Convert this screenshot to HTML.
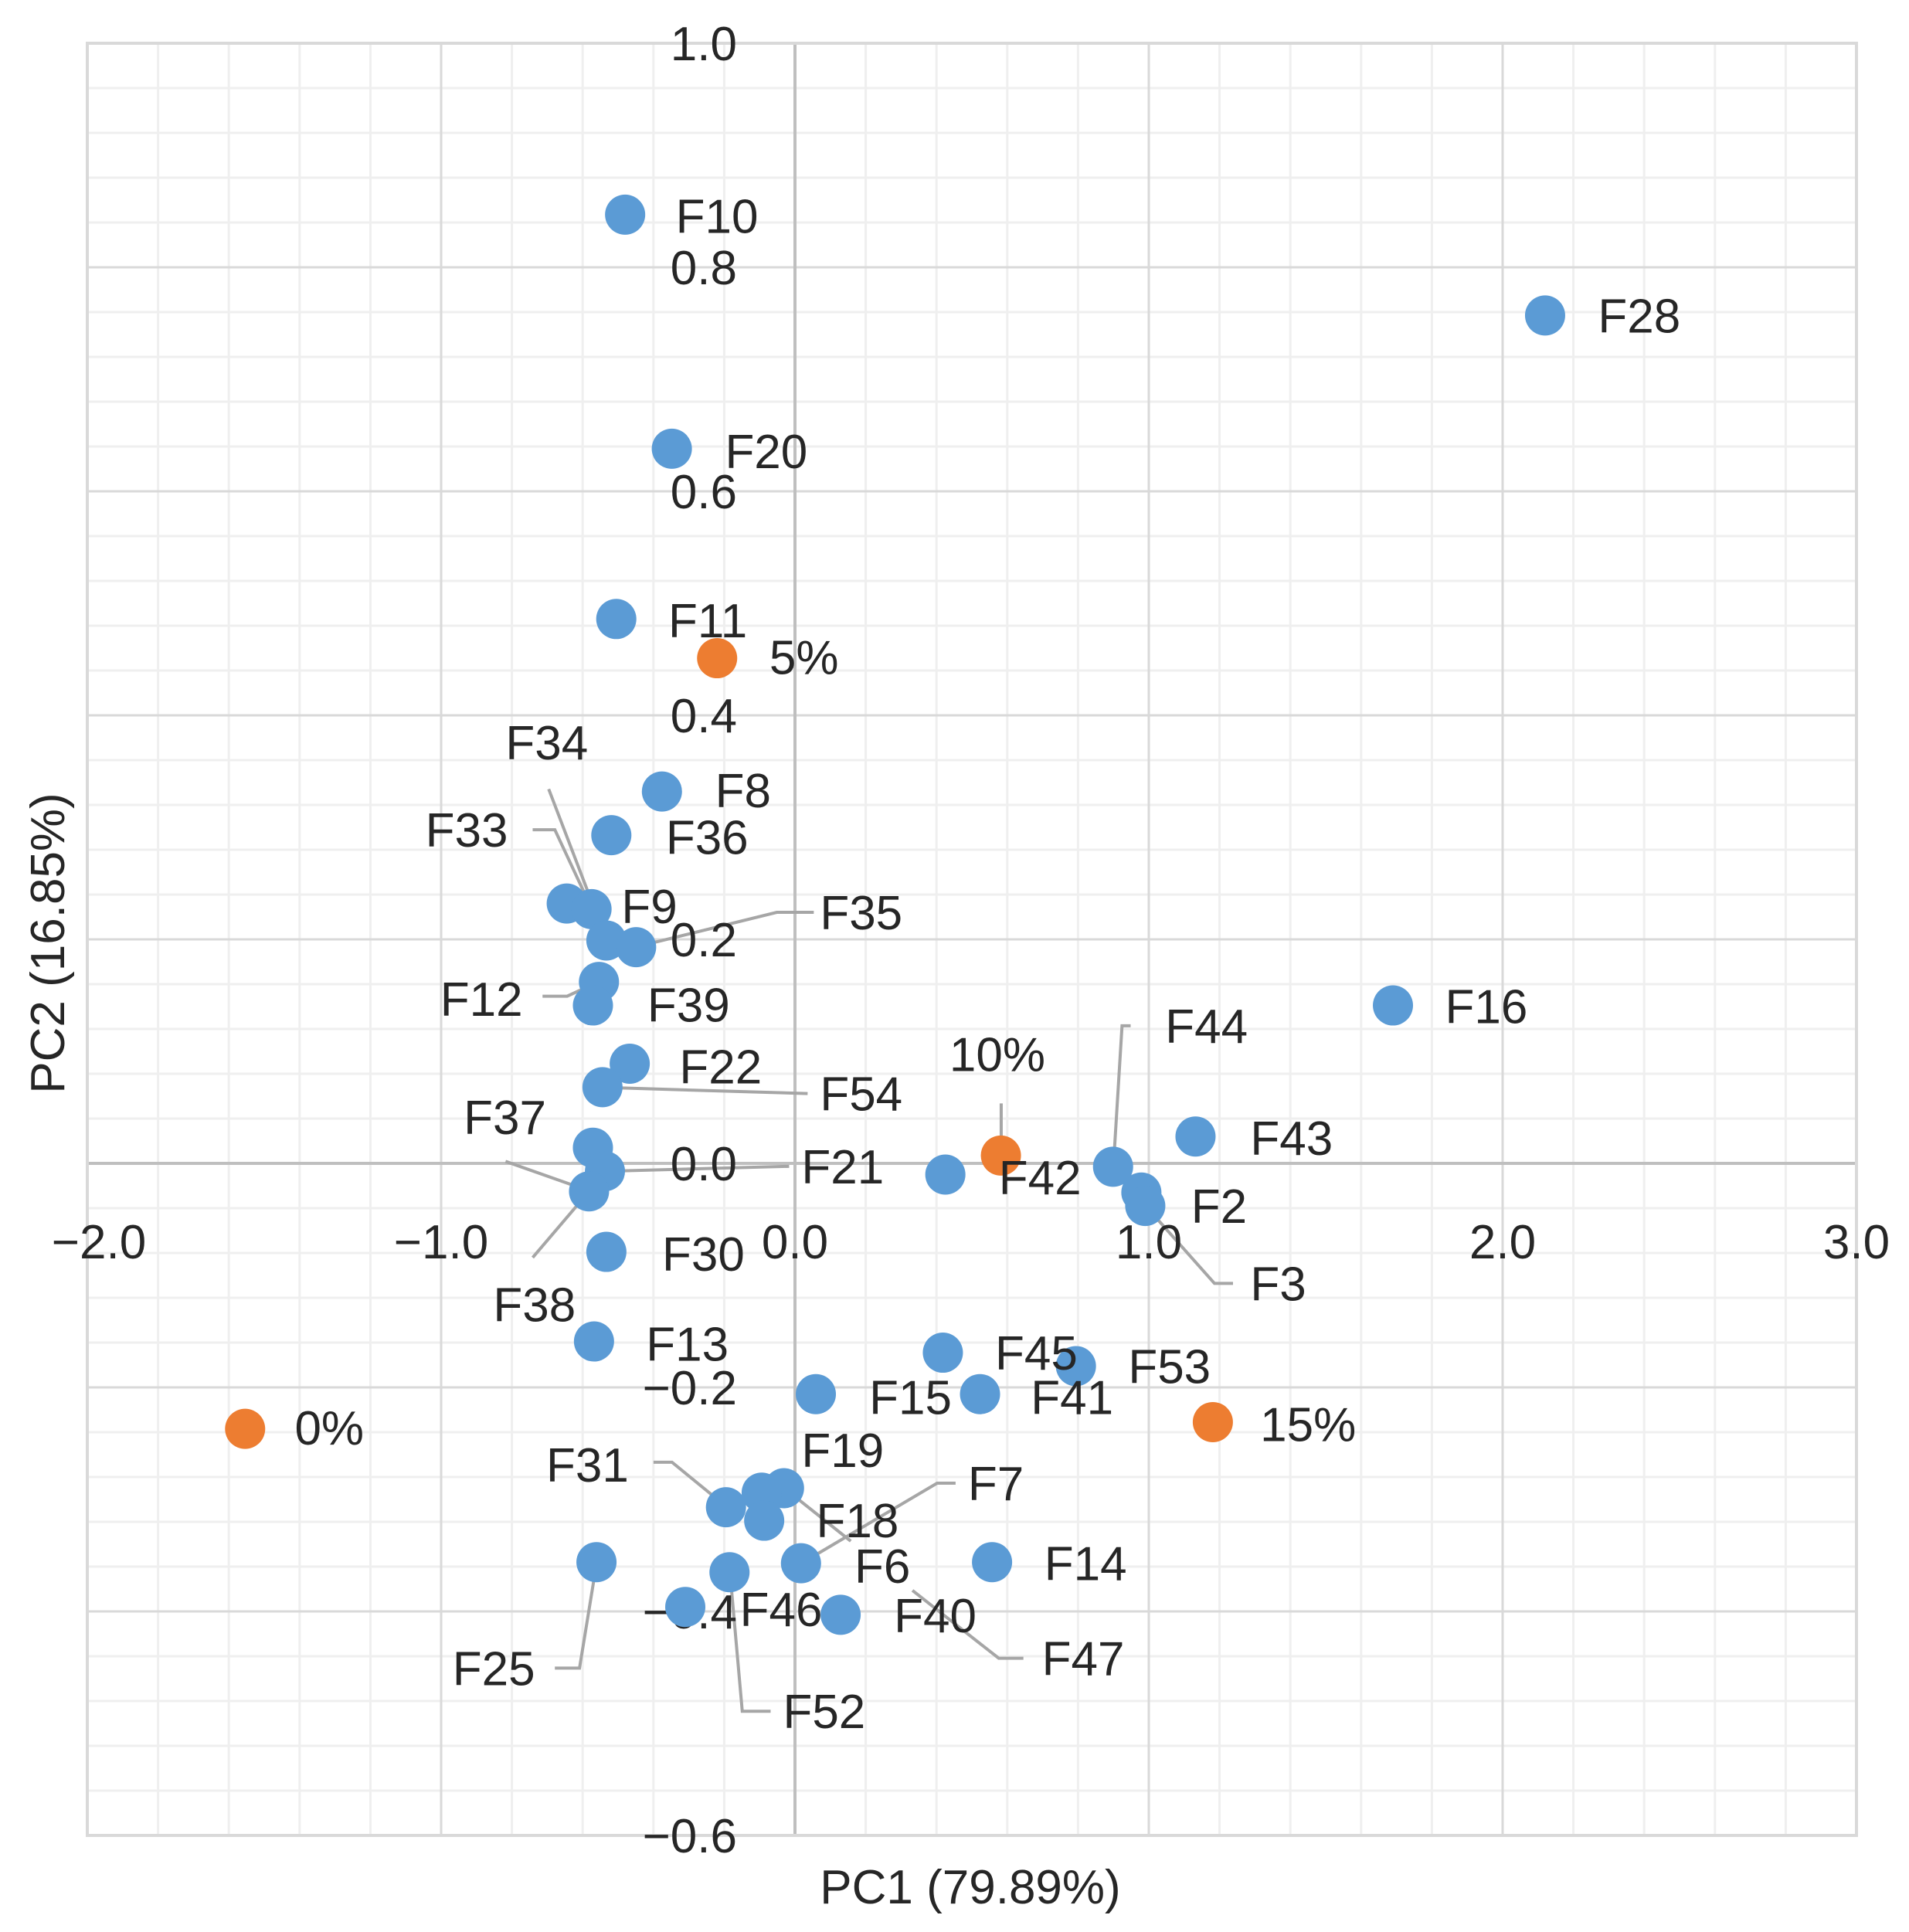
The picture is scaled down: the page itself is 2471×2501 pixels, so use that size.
<!DOCTYPE html>
<html><head><meta charset="utf-8">
<style>
html,body{margin:0;padding:0;background:#fff;}
svg{display:block;}
text{font-family:"Liberation Sans",sans-serif;fill:#262626;}
</style></head>
<body>
<svg id="chart" width="2471" height="2501" viewBox="0 0 2471 2501" xmlns="http://www.w3.org/2000/svg">
<g id="grid"></g>
<g id="leaders"></g>
<g id="ticks"></g>
<g id="marks"></g>
<g id="labels"></g>
<text x="1256" y="2464" font-size="62" text-anchor="middle">PC1 (79.89%)</text>
<text x="0" y="0" font-size="62" text-anchor="middle" transform="translate(83,1221) rotate(-90)">PC2 (16.85%)</text>
</svg>
<script>
// ---- data ----
const sampleNames = ["F10","F28","F20","F11","F8","F36","F33","F34","F9","F35","F12","F39","F22","F54","F37","F21","F38","F30","F13","F16","F42","F44","F43","F2","F3","F45","F53","F41","F15","F19","F7","F31","F18","F6","F14","F25","F52","F46","F40"];
const pc1Values = [-0.48,2.12,-0.348,-0.505,-0.376,-0.519,-0.645,-0.575,-0.533,-0.449,-0.554,-0.571,-0.467,-0.544,-0.571,-0.537,-0.582,-0.533,-0.568,1.69,0.425,0.899,1.132,0.979,0.99,0.418,0.794,0.523,0.059,-0.031,-0.094,-0.195,-0.087,0.017,0.557,-0.561,-0.185,-0.31,0.129];
const pc2Values = [0.847,0.757,0.638,0.486,0.332,0.293,0.232,0.227,0.199,0.193,0.162,0.141,0.089,0.068,0.014,-0.007,-0.025,-0.079,-0.159,0.141,-0.010,-0.003,0.024,-0.026,-0.038,-0.169,-0.181,-0.206,-0.206,-0.290,-0.294,-0.307,-0.319,-0.357,-0.356,-0.356,-0.365,-0.396,-0.403];
const groupNames = ["0%","5%","10%","15%"];
const groupPc1 = [-1.554,-0.22,0.582,1.181];
const groupPc2 = [-0.237,0.451,0.007,-0.231];
const xTickLabels = ["\u22122.0","\u22121.0","0.0","1.0","2.0","3.0"];
const xTickValues = [-2,-1,0,1,2,3];
const yTickLabels = ["1.0","0.8","0.6","0.4","0.2","0.0","\u22120.2","\u22120.4","\u22120.6"];
const yTickValues = [1.0,0.8,0.6,0.4,0.2,0.0,-0.2,-0.4,-0.6];

// ---- layout (display-space label anchors, scaled by K) ----
const K = 1.596;
const labelLayout = {
 "F10":[548,175],"F28":[1296,256],"F20":[588,366],"F11":[542,503],"F8":[580,641],"F36":[540,679],
 "F33":[345,673],"F34":[410,602],"F9":[504,735],"F35":[665,740],"F12":[357,810],"F39":[525,815],
 "F22":[551,865],"F54":[665,887],"F37":[376,906],"F21":[650,946],"F38":[400,1058],"F30":[537,1017],
 "F13":[524,1090],"F16":[1172,816],"F42":[810,955],"F44":[945,832],"F43":[1014,923],"F2":[966,978],
 "F3":[1014,1041],"F45":[807,1097],"F53":[915,1108],"F41":[836,1133],"F15":[705,1133],"F19":[650,1176],
 "F7":[785,1203],"F31":[443,1188],"F18":[662,1233],"F6":[693,1270],"F14":[847,1268],"F25":[367,1353],
 "F52":[635,1388],"F46":[600,1305],"F40":[725,1310],"F47":[845,1345],
 "0%":[239,1158],"5%":[624,533],"10%":[770,855],"15%":[1022,1155]
};
const leaderPaths = [
 [[432,673],[450,673],[492,763]],
 [[445,640],[492,763]],
 [[660,740],[630,740],[516,768]],
 [[440,808],[460,808],[486,796]],
 [[655,887],[489,882]],
 [[410,942],[478,966]],
 [[640,946],[491,950]],
 [[432,1020],[478,966]],
 [[812,895],[812,937]],
 [[917,832],[910,832],[903,946]],
 [[1000,1041],[985,1041],[929,978]],
 [[775,1203],[760,1203],[650,1268]],
 [[530,1186],[545,1186],[589,1222]],
 [[636,1207],[690,1250]],
 [[450,1353],[470,1353],[484,1267]],
 [[625,1388],[602,1388],[592,1275]],
 [[830,1345],[810,1345],[740,1290]]
];

const L=113,R=2403,T=56,B=2376, XMIN=-2,XMAX=3,YMIN=-0.6,YMAX=1.0;
function sx(v){return L+(v-XMIN)/(XMAX-XMIN)*(R-L);}
function sy(v){return T+(YMAX-v)/(YMAX-YMIN)*(B-T);}
const NS="http://www.w3.org/2000/svg";
function mk(tag,attrs,parent){const e=document.createElementNS(NS,tag);for(const k in attrs)e.setAttribute(k,attrs[k]);parent.appendChild(e);return e;}

const grid=document.getElementById('grid');
// minor grid
for(let i=0;i<=25;i++){const v=XMIN+i*0.2;const l=mk('line',{x1:sx(v),x2:sx(v),y1:T,y2:B,stroke:'#efefef','stroke-width':3},grid);

}
for(let i=0;i<=40;i++){const v=YMIN+i*0.04;const l=mk('line',{x1:L,x2:R,y1:sy(v),y2:sy(v),stroke:'#efefef','stroke-width':3},grid);

}
xTickValues.forEach(v=>{const l=mk('line',{x1:sx(v),x2:sx(v),y1:T,y2:B,stroke:'#d9d9d9','stroke-width':3},grid);

});
yTickValues.forEach(v=>{const l=mk('line',{x1:L,x2:R,y1:sy(v),y2:sy(v),stroke:'#d9d9d9','stroke-width':3},grid);

});
const ax1=mk('line',{x1:L,x2:R,y1:sy(0),y2:sy(0),stroke:'#bfbfbf','stroke-width':4},grid);


const ax2=mk('line',{x1:sx(0),x2:sx(0),y1:T,y2:B,stroke:'#bfbfbf','stroke-width':4},grid);


const frame=mk('rect',{x:L,y:T,width:R-L,height:B-T,fill:'none',stroke:'#d9d9d9','stroke-width':4},grid);



const leaders=document.getElementById('leaders');
leaderPaths.forEach(p=>{const pl=mk('polyline',{points:p.map(q=>(q[0]*K)+','+(q[1]*K)).join(' '),fill:'none',stroke:'#a6a6a6','stroke-width':4},leaders);

});

const ticks=document.getElementById('ticks');
xTickLabels.forEach((t,i)=>{let x=sx(xTickValues[i]);if(i===0)x=Math.max(x,128);
const e=mk('text',{x:x,y:1607+22,'font-size':62,'text-anchor':'middle'},ticks);e.textContent=t;

});
yTickLabels.forEach((t,i)=>{const e=mk('text',{x:954,y:sy(yTickValues[i])+22,'font-size':62,'text-anchor':'end'},ticks);e.textContent=t;

});

const marks=document.getElementById('marks');
sampleNames.forEach((n,i)=>{const c=mk('circle',{cx:sx(pc1Values[i]),cy:sy(pc2Values[i]),r:26,fill:'#5b9bd5'},marks);

});
groupNames.forEach((n,i)=>{const c=mk('circle',{cx:sx(groupPc1[i]),cy:sy(groupPc2[i]),r:26,fill:'#ed7d31'},marks);

});

const labels=document.getElementById('labels');
Object.keys(labelLayout).forEach(n=>{const p=labelLayout[n];const e=mk('text',{x:p[0]*K,y:p[1]*K+22,'font-size':62},labels);e.textContent=n;

});
</script>
</body></html>
